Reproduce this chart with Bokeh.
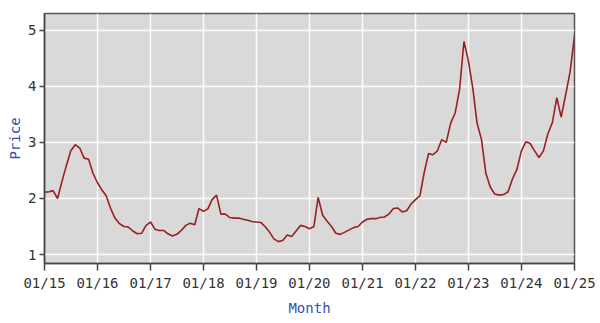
import pandas as pd
from bokeh.plotting import figure
from bokeh.models import Range1d, FixedTicker, DatetimeTickFormatter, ColumnDataSource
from bokeh.embed import file_html
from bokeh.resources import INLINE

start_month = "2015-01-01"
prices = [
    2.11, 2.12, 2.14, 2.00, 2.30, 2.59, 2.85, 2.96, 2.90, 2.72, 2.70, 2.45,
    2.28, 2.15, 2.05, 1.82, 1.65, 1.55, 1.50, 1.49, 1.42, 1.37, 1.38, 1.52,
    1.58, 1.45, 1.43, 1.43, 1.37, 1.33, 1.36, 1.43, 1.52, 1.56, 1.53, 1.82,
    1.77, 1.82, 1.98, 2.06, 1.72, 1.72, 1.66, 1.65, 1.65, 1.63, 1.61, 1.59,
    1.58, 1.57, 1.50, 1.40, 1.28, 1.23, 1.25, 1.35, 1.32, 1.42, 1.52, 1.50,
    1.46, 1.50, 2.02, 1.70, 1.60, 1.50, 1.38, 1.36, 1.40, 1.44, 1.48, 1.50,
    1.58, 1.63, 1.64, 1.64, 1.66, 1.67, 1.72, 1.82, 1.83, 1.76, 1.78, 1.90,
    1.98, 2.05, 2.45, 2.80, 2.78, 2.85, 3.05, 3.00, 3.35, 3.52, 3.95, 4.80,
    4.45, 3.95, 3.35, 3.05, 2.45, 2.20, 2.08, 2.06, 2.07, 2.12, 2.35, 2.52,
    2.85, 3.01, 2.98, 2.85, 2.73, 2.85, 3.15, 3.35, 3.80, 3.45, 3.85, 4.25,
    4.90,
]
tick_years = list(range(2015, 2026))
y_ticks = [1, 2, 3, 4, 5]

months = pd.date_range(start_month, periods=len(prices), freq="MS")
src = ColumnDataSource(dict(x=months, y=prices))

x_ticks = [pd.Timestamp(f"{y}-01-01").value / 1e6 for y in tick_years]

p = figure(width=600, height=323, output_backend="svg", toolbar_location=None,
           x_axis_type="datetime",
           x_range=Range1d(x_ticks[0], x_ticks[-1]),
           y_range=Range1d(0.84, 5.30),
           min_border_left=44, min_border_right=26, min_border_top=13, min_border_bottom=60)

p.line("x", "y", source=src, line_color="#9a1f1f", line_width=1.6)

p.background_fill_color = "#d9d9d9"
p.border_fill_color = "white"
p.outline_line_color = "#555555"
p.outline_line_width = 1.5

p.xaxis.ticker = FixedTicker(ticks=x_ticks)
fmt = "%m/%y"
p.xaxis.formatter = DatetimeTickFormatter(years=fmt, months=fmt, days=fmt, hours=fmt,
                                          minutes=fmt, seconds=fmt, milliseconds=fmt,
                                          microseconds=fmt, hourmin=fmt, minsec=fmt)
p.yaxis.ticker = FixedTicker(ticks=y_ticks)

for ax in (p.xaxis, p.yaxis):
    ax.major_label_text_font = "DejaVu Sans Mono"
    ax.major_label_text_font_size = "14px"
    ax.major_label_text_color = "#333333"
    ax.axis_label_text_font = "DejaVu Sans Mono"
    ax.axis_label_text_font_size = "14px"
    ax.axis_label_text_font_style = "normal"
    ax.axis_label_text_color = "#3050b0"
    ax.axis_line_color = "#444444"
    ax.axis_line_width = 1.5
    ax.major_tick_line_color = "#444444"
    ax.major_tick_line_width = 1.5
    ax.major_tick_in = 0
    ax.minor_tick_line_color = None

p.xaxis.major_tick_out = 7
p.yaxis.major_tick_out = 5
p.xaxis.major_label_standoff = 4
p.yaxis.major_label_standoff = 3
p.xaxis.axis_label = "Month"
p.yaxis.axis_label = "Price"
p.xaxis.axis_label_standoff = 6
p.yaxis.axis_label_standoff = 2

p.grid.grid_line_color = "white"
p.grid.grid_line_width = 1.5
p.grid.grid_line_alpha = 0.9

open("out.html", "w").write(file_html(p, INLINE))
